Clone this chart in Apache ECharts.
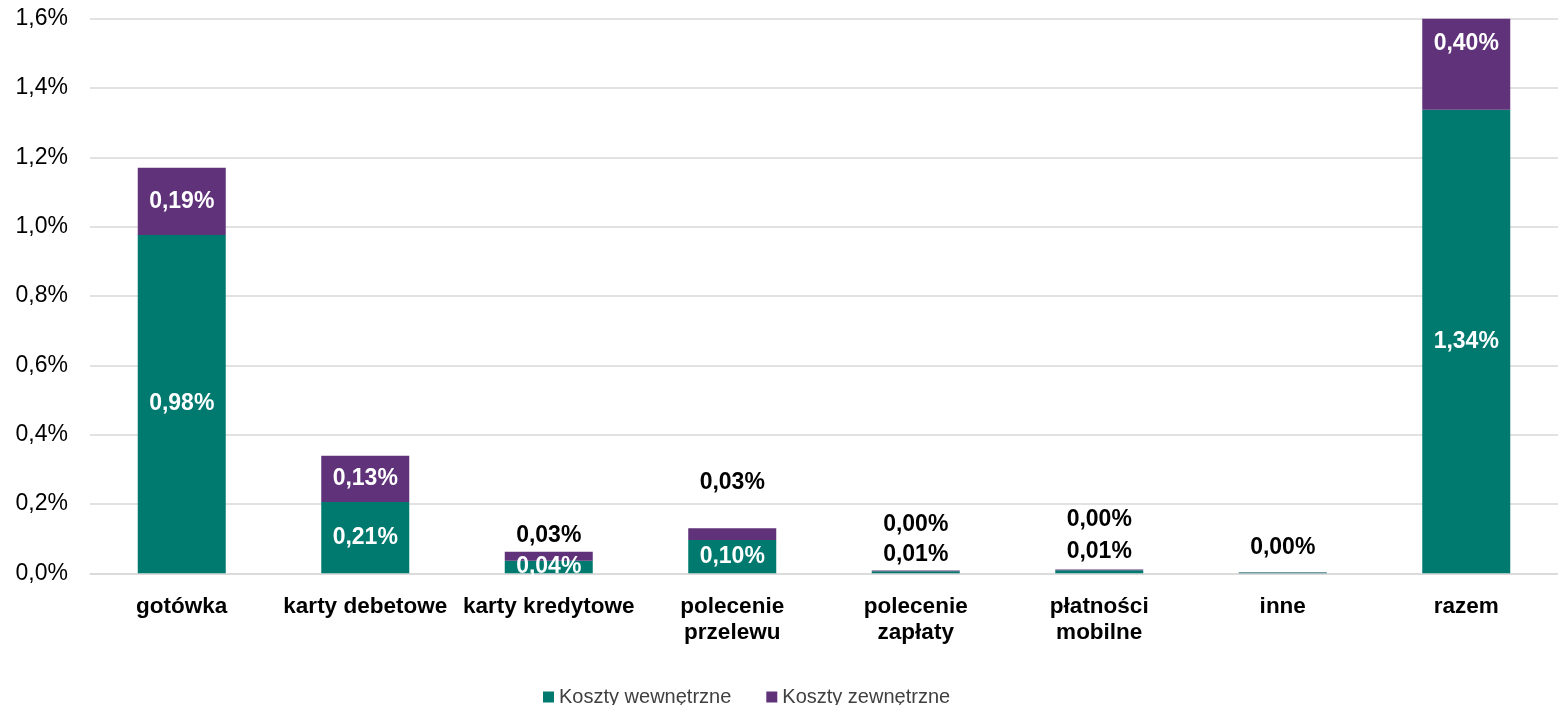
<!DOCTYPE html>
<html>
<head>
<meta charset="utf-8">
<script src="https://cdn.jsdelivr.net/npm/echarts@6/dist/echarts.min.js"></script>
<style>
  html, body { margin: 0; padding: 0; background: #fff; }
  #chart { width: 1558px; height: 705px; }
</style>
</head>
<body>
<div id="chart"></div>
<script>
// kategorie i wartości (% )
var categories = ['gotówka', 'karty debetowe', 'karty kredytowe', 'polecenie\nprzelewu',
  'polecenie\nzapłaty', 'płatności\nmobilne', 'inne', 'razem'];
var kosztyWewnetrzne = [0.976, 0.206, 0.036, 0.096, 0.006, 0.009, 0.002, 1.337];
var kosztyZewnetrzne = [0.194, 0.133, 0.026, 0.034, 0.002, 0.002, 0.001, 0.40];
var yTicks = [0, 0.2, 0.4, 0.6, 0.8, 1.0, 1.2, 1.4, 1.6];

var TEAL = '#007A6F';
var PURPLE = '#5F3279';

function pct(v) {
  return v.toFixed(2).replace('.', ',') + '%';
}

// etykiety nad słupkami (czarne) - indeks -> odstęp
var wewTop = { 4: 5, 5: 7, 6: 13 };
var zewTop = { 2: 5, 3: 34, 4: 34, 5: 38 };

var whiteLbl = { show: true, position: 'inside', color: '#fff', fontSize: 23, fontWeight: 'bold' };
var blackLbl = { show: true, position: 'top', color: '#000', fontSize: 23, fontWeight: 'bold' };

function buildData(values, topMap, hide, special) {
  return values.map(function (v, i) {
    var lbl;
    if (hide.indexOf(i) >= 0) {
      lbl = { show: false };
    } else if (special && special[i]) {
      lbl = Object.assign({}, whiteLbl, special[i]);
    } else if (topMap[i] !== undefined) {
      lbl = Object.assign({}, blackLbl, { distance: topMap[i] });
    } else {
      lbl = whiteLbl;
    }
    return { value: v, label: lbl };
  });
}

var chart = echarts.init(document.getElementById('chart'));
var option = {
  animation: false,
  textStyle: { fontFamily: '"Liberation Sans", Arial, sans-serif' },
  grid: { left: 90, right: -4, top: 18.7, bottom: 131.7, containLabel: false },
  legend: {
    data: ['Koszty wewnętrzne', 'Koszty zewnętrzne'],
    left: 538,
    top: 682,
    icon: 'rect',
    itemWidth: 11,
    itemHeight: 11,
    itemGap: 35,
    textStyle: { fontSize: 20, color: '#404040' }
  },
  xAxis: {
    type: 'category',
    data: categories,
    axisTick: { show: false },
    axisLine: { lineStyle: { color: '#d9d9d9', width: 1.5 } },
    axisLabel: {
      interval: 0,
      color: '#000',
      fontSize: 22.5,
      fontWeight: 'bold',
      lineHeight: 26,
      margin: 20
    }
  },
  yAxis: {
    type: 'value',
    min: yTicks[0],
    max: yTicks[yTicks.length - 1],
    interval: 0.2,
    axisLine: { show: false },
    axisTick: { show: false },
    splitLine: { lineStyle: { color: '#d9d9d9', width: 1.5 } },
    axisLabel: {
      color: '#000',
      fontSize: 23,
      margin: 22,
      formatter: function (v) { return v.toFixed(1).replace('.', ',') + '%'; }
    }
  },
  series: [
    {
      name: 'Koszty wewnętrzne',
      type: 'bar',
      stack: 'koszty',
      barWidth: 88,
      clip: true,
      itemStyle: { color: TEAL },
      data: buildData(kosztyWewnetrzne, wewTop, [])
    },
    {
      name: 'Koszty zewnętrzne',
      type: 'bar',
      stack: 'koszty',
      barWidth: 88,
      clip: true,
      itemStyle: { color: PURPLE },
      data: buildData(kosztyZewnetrzne, zewTop, [6], { 7: { position: 'insideTop', distance: 13 } })
    }
  ]
};
option.series.forEach(function (s) {
  s.label = { formatter: function (p) { return pct(p.value); } };
});
chart.setOption(option);
</script>
</body>
</html>
